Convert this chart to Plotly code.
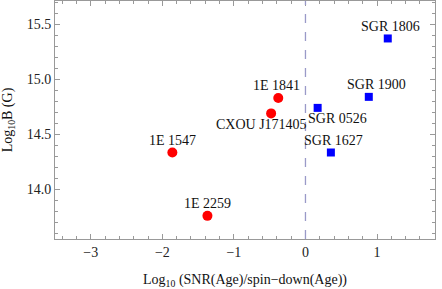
import plotly.graph_objects as go

axp_names = ["1E 1841", "CXOU J171405", "1E 1547", "1E 2259"]
axp_x = [-0.38, -0.48, -1.86, -1.37]
axp_y = [14.83, 14.69, 14.335, 13.76]

sgr_names = ["SGR 1806", "SGR 1900", "SGR 0526", "SGR 1627"]
sgr_x = [1.15, 0.885, 0.17, 0.355]
sgr_y = [15.37, 14.84, 14.74, 14.335]

x_range = [-3.5, 1.81]
y_range = [13.55, 15.71]

FONT = "Times New Roman, Liberation Serif, DejaVu Serif, serif"

fig = go.Figure()
fig.add_trace(go.Scatter(x=axp_x, y=axp_y, mode="markers",
                         marker=dict(symbol="circle", size=10, color="#ff0000", line=dict(width=0)),
                         showlegend=False, hoverinfo="skip"))
fig.add_trace(go.Scatter(x=sgr_x, y=sgr_y, mode="markers",
                         marker=dict(symbol="square", size=8, color="#0000ff", line=dict(width=0)),
                         showlegend=False, hoverinfo="skip"))

fig.add_shape(type="line", x0=0, x1=0, y0=0, y1=1, xref="x", yref="paper",
              line=dict(color="#9a9ac8", width=1.3, dash="dash"))

# label offsets (pixels)
axp_off = [(-2, 12), (-10, -11), (0, 12), (0, 12)]
sgr_off = [(3, 12), (8, 12), (20, -11), (3, 12)]
for names, xs, ys, offs in [(axp_names, axp_x, axp_y, axp_off), (sgr_names, sgr_x, sgr_y, sgr_off)]:
    for n, x, y, (dx, dy) in zip(names, xs, ys, offs):
        fig.add_annotation(x=x, y=y, text=n, showarrow=False, xshift=dx, yshift=dy,
                           xanchor="center", yanchor="middle",
                           font=dict(family=FONT, size=14, color="#111"))

axis_common = dict(showgrid=False, zeroline=False, showline=True, linecolor="#999",
                   linewidth=1, mirror="allticks", ticks="inside", ticklen=5,
                   tickcolor="#999", automargin=False,
                   tickfont=dict(family=FONT, size=14, color="#222"))

fig.update_xaxes(range=x_range, dtick=1, tick0=0,
                 minor=dict(dtick=0.2, tick0=0, ticks="inside", ticklen=3, tickcolor="#999"),
                 title=dict(text="Log<sub>10</sub> (SNR(Age)/spin\u2212down(Age))",
                            font=dict(family=FONT, size=14, color="#111"), standoff=18),
                 **axis_common)
fig.update_yaxes(range=y_range, dtick=0.5, tick0=14, tickformat=".1f",
                 minor=dict(dtick=0.1, tick0=14, ticks="inside", ticklen=3, tickcolor="#999"),
                 title=dict(text="Log<sub>10</sub>B (G)",
                            font=dict(family=FONT, size=14, color="#111"), standoff=12),
                 **axis_common)

fig.update_layout(width=442, height=289, margin=dict(l=55, r=7, t=1, b=50),
                  paper_bgcolor="white", plot_bgcolor="white",
                  font=dict(family=FONT))
fig.write_html("out.html", config={"displayModeBar": False, "staticPlot": True},
               post_script="document.body.style.margin='0';document.body.style.padding='0';")
